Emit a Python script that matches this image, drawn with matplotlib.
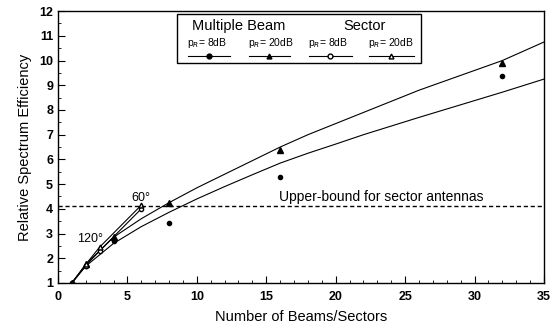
import matplotlib.pyplot as plt
from matplotlib.patches import Rectangle
from matplotlib.ticker import MultipleLocator

plt.rcParams['font.family'] = ['Liberation Sans', 'DejaVu Sans']

# multiple beam curves
curve_x = [1, 2, 4, 6, 8, 10, 12, 14, 16, 18, 20, 22, 24, 26, 28, 30, 32, 35]
curve_20db = [1, 1.75, 2.85, 3.6, 4.25, 4.85, 5.4, 5.95, 6.5, 7.0, 7.45, 7.9, 8.35, 8.8, 9.2, 9.6, 10.0, 10.75]
curve_8db = [1, 1.68, 2.6, 3.28, 3.86, 4.4, 4.9, 5.38, 5.85, 6.25, 6.62, 7.0, 7.35, 7.7, 8.04, 8.38, 8.72, 9.25]

# multiple beam simulated points
beam_x = [1, 2, 4, 8, 16, 32]
beam_8db = [1, 1.7, 2.7, 3.42, 5.3, 9.37]
beam_20db = [1, 1.75, 2.85, 4.22, 6.4, 9.9]

# sector antennas
sector_x = [1, 2, 3, 6]
sector_8db = [1, 1.7, 2.3, 4.0]
sector_20db = [1, 1.75, 2.45, 4.15]

upper_bound = 4.1

fig = plt.figure(figsize=(5.52, 3.27), dpi=100)
ax = fig.add_axes([0.105, 0.1346, 0.8805, 0.8314])

ax.plot(curve_x, curve_20db, color='black', lw=0.8)
ax.plot(curve_x, curve_8db, color='black', lw=0.8)
ax.plot(beam_x, beam_8db, 'o', color='black', ms=3, ls='none')
ax.plot(beam_x, beam_20db, '^', color='black', ms=4, ls='none')
ax.plot(sector_x, sector_8db, '-o', color='black', lw=0.8, ms=3, mfc='white')
ax.plot(sector_x, sector_20db, '-^', color='black', lw=0.8, ms=3.5, mfc='white')
ax.axhline(upper_bound, color='black', lw=1, ls=(0, (3, 2)))

ax.text(15.9, 4.3, 'Upper-bound for sector antennas', fontsize=10)
ax.text(2.3, 2.65, '120°', fontsize=9, ha='center')
ax.text(6.0, 4.3, '60°', fontsize=9, ha='center')

ax.set_xlim(0, 35)
ax.set_ylim(1, 12)
ax.xaxis.set_major_locator(MultipleLocator(5))
ax.xaxis.set_minor_locator(MultipleLocator(1))
ax.yaxis.set_major_locator(MultipleLocator(1))
ax.yaxis.set_minor_locator(MultipleLocator(0.5))
ax.tick_params(which='both', direction='in', top=False, right=False)
ax.tick_params(which='major', length=5, labelsize=9)
ax.tick_params(axis='x', which='major', pad=6)
ax.tick_params(which='minor', length=2.5)
for lab in ax.get_xticklabels() + ax.get_yticklabels():
    lab.set_fontweight('bold')
for s in ax.spines.values():
    s.set_linewidth(1)

ax.set_xlabel('Number of Beams/Sectors', fontsize=10.5, labelpad=5)
ax.set_ylabel('Relative Spectrum Efficiency', fontsize=10.5, labelpad=5)

# hand-made legend box
tr = ax.transAxes
def px(x):
    return (x - 58) / 486.0
def py(y):
    return (283 - y) / 272.0

ax.add_patch(Rectangle((px(177), py(63)), px(421) - px(177), py(14) - py(63),
                       transform=tr, fill=False, edgecolor='black', lw=1, zorder=5))
ax.text(px(192), py(26), 'Multiple Beam', transform=tr, fontsize=10.5, va='center')
ax.text(px(343), py(26), 'Sector', transform=tr, fontsize=10.5, va='center')
cols = [(187, 230, '8dB', 'o', 'black'), (248, 290, '20dB', '^', 'black'),
        (308, 352, '8dB', 'o', 'white'), (368, 414, '20dB', '^', 'white')]
for x0, x1, lab, mk, fc in cols:
    ax.text(px(x0), py(43), r'p$_R$= ' + lab, transform=tr, fontsize=7.5, va='center')
    ax.plot([px(x0 + 1), px(x1)], [py(56), py(56)], transform=tr, color='black', lw=0.8)
    ax.plot([(px(x0 + 1) + px(x1)) / 2], [py(56)], mk, transform=tr, color='black',
            mfc=fc, ms=3.5)

fig.savefig('out.png', dpi=100)
